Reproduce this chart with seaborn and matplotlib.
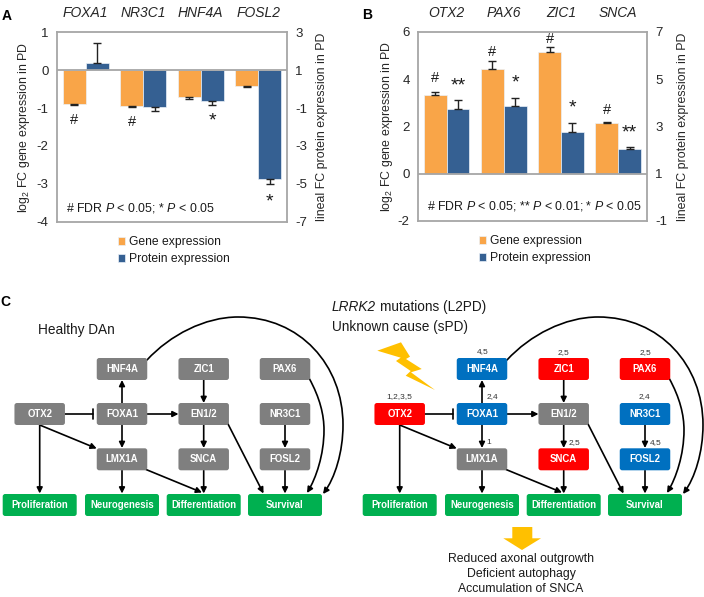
import pandas as pd
import matplotlib
matplotlib.use("Agg")
import matplotlib.pyplot as plt
import seaborn as sns
from matplotlib.patches import FancyBboxPatch, FancyArrowPatch, Polygon
from matplotlib.path import Path

# --- DATA (protein bars are read against the left axis of each panel) ---
SERIES = ["Gene expression", "Protein expression"]

genes_a = ["FOXA1", "NR3C1", "HNF4A", "FOSL2"]
gene_a = [-0.88, -0.94, -0.70, -0.43]
gene_a_err = [0.04, 0.04, 0.05, 0.02]
protein_a = [0.18, -0.965, -0.82, -2.87]
protein_a_err = [0.53, 0.115, 0.11, 0.13]

genes_b = ["OTX2", "PAX6", "ZIC1", "SNCA"]
gene_b = [3.33, 4.43, 5.14, 2.16]
gene_b_err = [0.12, 0.32, 0.23, 0.02]
protein_b = [2.73, 2.87, 1.77, 1.02]
protein_b_err = [0.38, 0.35, 0.39, 0.12]

left_ticks_a = [1, 0, -1, -2, -3, -4]
right_ticks_a = [3, 1, -1, -3, -5, -7]
left_ticks_b = [6, 4, 2, 0, -2]
right_ticks_b = [7, 5, 3, 1, -1]

# (series index, gene index, mark, height on left axis)
marks_a = [(0, 0, "#", -1.31), (0, 1, "#", -1.38), (1, 2, "*", -1.33), (1, 3, "*", -3.47)]
marks_b = [(0, 0, "#", 4.03), (1, 0, "**", 3.70), (0, 1, "#", 5.17), (1, 1, "*", 3.83),
           (0, 2, "#", 5.70), (1, 2, "*", 2.80), (0, 3, "#", 2.70), (1, 3, "**", 1.74)]

outcomes = ["Proliferation", "Neurogenesis", "Differentiation", "Survival"]
consequences = ["Reduced axonal outgrowth", "Deficient autophagy", "Accumulation of SNCA"]

# --- STYLE ---
ORANGE = "#F9A548"
NAVY = "#356092"
GREY = "#7F7F7F"
RED = "#FF0000"
BLUE = "#0070C0"
GREEN = "#00B050"
AMBER = "#FFC000"
AXIS_GREY = "#A6A6A6"

W, H = 704, 597
sns.set_style("white")
plt.rcParams["font.family"] = ["Liberation Sans", "DejaVu Sans"]
plt.rcParams["mathtext.fontset"] = "custom"
plt.rcParams["mathtext.rm"] = "Liberation Sans"
plt.rcParams["mathtext.it"] = "Liberation Sans:italic"
plt.rcParams["text.color"] = "#1a1a1a"
plt.rcParams["axes.unicode_minus"] = False

fig = plt.figure(figsize=(W / 100, H / 100), dpi=100)


def px_axes(left, top, right, bottom):
    return fig.add_axes([left / W, 1 - bottom / H, (right - left) / W, (bottom - top) / H])


def bar_panel(box, genes, gene, gene_err, protein, protein_err, ylim, left_ticks,
              right_ylim, right_ticks, marks, note, note_xy, ylabel_offsets):
    ax = px_axes(*box)
    width_px = box[2] - box[0]
    df = pd.DataFrame({
        "gene": genes * 2,
        "series": [SERIES[0]] * 4 + [SERIES[1]] * 4,
        "value": list(gene) + list(protein),
    })
    sns.barplot(data=df, x="gene", y="value", hue="series", hue_order=SERIES,
                palette=[ORANGE, NAVY], width=0.8, errorbar=None, saturation=1,
                edgecolor="#EAF1F8", linewidth=0.5, ax=ax)

    # error bars sit on the bars seaborn placed, one sided like the original
    centres = [p.get_x() + p.get_width() / 2 for p in ax.patches[:8]]
    errs = list(gene_err) + list(protein_err)
    for x, val, err in zip(centres, df["value"], errs):
        low, high = (0, err) if val > 0 else (err, 0)
        ax.errorbar(x, val, yerr=[[low], [high]], color="#222222", lw=1.0, capsize=2.8, capthick=1.0)

    ax.axhline(0, color=AXIS_GREY, lw=1.3, zorder=5)
    ax.set_xlim(-0.5, 3.5)
    ax.set_ylim(*ylim)
    ax.set_yticks(left_ticks)
    ax.tick_params(axis="y", length=0, pad=6, labelsize=9.5)
    ax.xaxis.tick_top()
    ax.tick_params(axis="x", length=0, pad=8.5, labelsize=10)
    for lab in ax.get_xticklabels():
        lab.set_fontstyle("italic")
    ax.set_xlabel("")
    ax.set_ylabel(r"$\mathregular{log_2}$ FC gene expression in PD", fontsize=8.9)
    ax.yaxis.set_label_coords(-ylabel_offsets[0] / width_px, 0.5)
    for s in ax.spines.values():
        s.set_color(AXIS_GREY)
        s.set_linewidth(1.3)

    for series, idx, mark, y in marks:
        ax.text(centres[series * 4 + idx], y, mark, ha="center", va="center",
                fontsize=14 if "*" in mark else 10.5)
    ax.text(note_xy[0], note_xy[1], note, fontsize=8.9, ha="left", va="center")

    sns.move_legend(ax, "upper left", bbox_to_anchor=(0.265, -0.075), title=None,
                    frameon=False, fontsize=8.7, handlelength=0.62, handleheight=0.62,
                    handletextpad=0.3, labelspacing=0.42, borderpad=0, borderaxespad=0)

    twin = ax.twinx()
    twin.set_ylim(*right_ylim)
    twin.set_yticks(right_ticks)
    twin.tick_params(axis="y", length=0, pad=6, labelsize=9.5)
    twin.set_ylabel("lineal FC protein expression in PD", fontsize=8.9)
    twin.yaxis.set_label_coords(1 + ylabel_offsets[1] / width_px, 0.5)
    for s in twin.spines.values():
        s.set_visible(False)
    return ax


bar_panel((57, 32.3, 287, 221.7), genes_a, gene_a, gene_a_err, protein_a, protein_a_err,
          (-4, 1), left_ticks_a, (-7, 3), right_ticks_a, marks_a,
          r"# FDR $\mathit{P}$ < 0.05; * $\mathit{P}$ < 0.05", (-0.343, -3.65), (25, 29))
bar_panel((418, 32, 646.7, 220.7), genes_b, gene_b, gene_b_err, protein_b, protein_b_err,
          (-2, 6), left_ticks_b, (-1, 7), right_ticks_b, marks_b,
          r"# FDR $\mathit{P}$ < 0.05; ** $\mathit{P}$ < 0.01; * $\mathit{P}$ < 0.05",
          (-0.348, -1.38), (23, 30))

# --- PANEL C: pathway diagrams drawn in pixel coordinates ---
net = fig.add_axes([0, 0, 1, 1], zorder=10)
net.set_xlim(0, W)
net.set_ylim(H, 0)
net.axis("off")
net.patch.set_alpha(0)

for letter, x, y in [("A", 7, 16), ("B", 367, 15), ("C", 5, 302)]:
    net.text(x, y, letter, fontsize=10, fontweight="bold", ha="center", va="center", color="black")

COL = [39.7, 122, 203.7, 285]
ROW = [369, 414, 459.3, 505]
NODES = {"HNF4A": (1, 0), "ZIC1": (2, 0), "PAX6": (3, 0),
         "OTX2": (0, 1), "FOXA1": (1, 1), "EN1/2": (2, 1), "NR3C1": (3, 1),
         "LMX1A": (1, 2), "SNCA": (2, 2), "FOSL2": (3, 2)}
PD_COLOURS = {"HNF4A": BLUE, "ZIC1": RED, "PAX6": RED, "OTX2": RED, "FOXA1": BLUE,
              "EN1/2": GREY, "NR3C1": BLUE, "LMX1A": GREY, "SNCA": RED, "FOSL2": BLUE}


def box(cx, cy, w, h, colour, label, size=6.9):
    net.add_patch(FancyBboxPatch((cx - w / 2 + 2, cy - h / 2 + 2), w - 4, h - 4,
                                 boxstyle="round,pad=2,rounding_size=2.5", fc=colour, ec="none", zorder=3))
    net.text(cx, cy, label, color="white", fontsize=size, fontweight="bold", ha="center",
             va="center", zorder=4)


def arrow(p0, p1, dx):
    net.add_patch(FancyArrowPatch((p0[0] + dx, p0[1]), (p1[0] + dx, p1[1]), arrowstyle="-|>",
                                  mutation_scale=8.5, lw=1.2, color="black", shrinkA=0, shrinkB=0, zorder=2))


def curve(points, dx):
    verts = [(x + dx, y) for x, y in points]
    codes = [Path.MOVETO] + [Path.CURVE4] * (len(verts) - 1)
    net.add_patch(FancyArrowPatch(path=Path(verts, codes), arrowstyle="-|>", mutation_scale=8.5,
                                  lw=1.2, color="black", zorder=2))


def diagram(dx, colours):
    for name, (c, r) in NODES.items():
        box(COL[c] + dx, ROW[r], 50.5, 22, colours.get(name, GREY), name)
    for c, name in enumerate(outcomes):
        box(COL[c] + dx, ROW[3], 74, 22, GREEN, name)

    arrow((122, 403), (122, 380), dx)
    arrow((122, 425), (122, 448), dx)
    arrow((147, 414), (178.5, 414), dx)
    arrow((39.7, 425), (96.7, 448.5), dx)
    arrow((39.7, 425), (39.7, 493.5), dx)
    arrow((122, 470.5), (122, 493.5), dx)
    arrow((146, 469.5), (202, 492.5), dx)
    arrow((203.7, 380), (203.7, 403), dx)
    arrow((203.7, 425), (203.7, 448), dx)
    arrow((203.7, 470.5), (203.7, 493.5), dx)
    arrow((227.5, 423), (263.5, 493.5), dx)
    arrow((285, 425), (285, 448), dx)
    arrow((285, 470.5), (285, 493.5), dx)
    net.plot([65 + dx, 92.7 + dx], [414, 414], color="black", lw=1.2, zorder=2)
    net.plot([92.7 + dx, 92.7 + dx], [409, 419], color="black", lw=1.2, zorder=2)
    curve([(147, 360), (170, 335), (205, 317), (238, 317),
           (300, 317), (343, 365), (343, 425),
           (343, 452), (335, 478), (323, 494)], dx)
    curve([(309, 378), (320, 398), (324, 415), (324, 430),
           (324, 455), (316, 478), (307, 493)], dx)


diagram(0, {})
diagram(360, PD_COLOURS)

net.text(38, 330, "Healthy DAn", fontsize=9.8, va="center", ha="left")
lrrk = net.text(332, 306.7, "LRRK2", fontsize=9.8, va="center", ha="left", fontstyle="italic")
net.annotate("mutations (L2PD)", xy=(1, 0), xycoords=lrrk, xytext=(2.7, 0), textcoords="offset points",
             fontsize=9.8, va="bottom", ha="left")
net.text(332, 327.3, "Unknown cause (sPD)", fontsize=9.8, va="center", ha="left")

for label, x, y in [("1,2,3,5", 399.7, 397), ("4,5", 482.3, 351.7), ("2,4", 492.7, 397),
                    ("2,5", 563.3, 352.3), ("2,5", 645, 352.3), ("2,4", 644.3, 397),
                    ("1", 489, 443), ("2,5", 574.3, 443), ("4,5", 655.7, 443)]:
    net.text(x, y, label, fontsize=6, ha="center", va="center", color="#333333")

net.add_patch(Polygon([(377.3, 350.7), (401, 342.3), (410, 356.7), (406, 359), (421.7, 369),
                       (411, 372.3), (435, 390), (405.7, 375.7), (410.7, 371), (396, 361), (400.7, 357.7)],
                      closed=True, fc=AMBER, ec="none"))
net.add_patch(Polygon([(512.3, 527), (532.3, 527), (532.3, 538.3), (541, 538.3), (522, 550),
                       (503.3, 538.3), (512.3, 538.3)], closed=True, fc=AMBER, ec="none"))

for y, line in zip([559, 574, 589], consequences):
    net.text(521, y, line, fontsize=8.85, ha="center", va="center")

fig.savefig("out.png", dpi=100)
